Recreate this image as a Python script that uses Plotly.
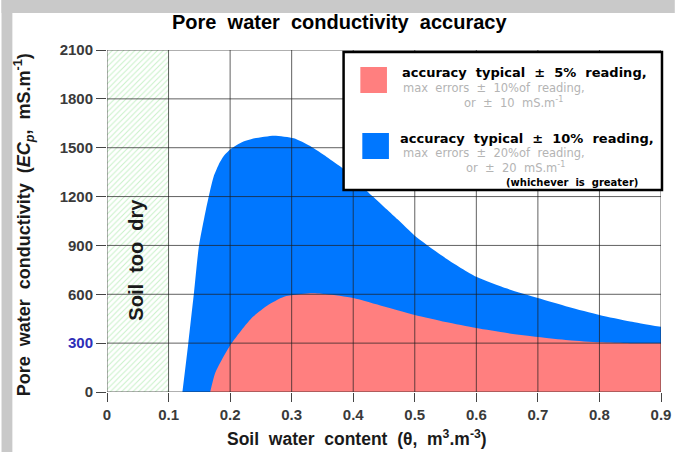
import plotly.graph_objects as go

# ---- data ----
blue_theta = [0.1225, 0.1321, 0.1412, 0.1492, 0.1580, 0.1652, 0.1732, 0.1812, 0.1900, 0.2023,
              0.2200, 0.2396, 0.2716, 0.3036, 0.3300, 0.3570, 0.3840, 0.4320, 0.4720, 0.5000,
              0.5500, 0.6000, 0.6500, 0.7000, 0.7500, 0.8000, 0.8500, 0.9000]
blue_ec = [0, 299, 606, 892, 1070, 1199, 1322, 1394, 1450, 1496,
           1535, 1558, 1574, 1558, 1510, 1443, 1370, 1200, 1060, 960,
           822, 708, 635, 577, 522, 473, 433, 400]

pink_theta = [0.1676, 0.1756, 0.1863, 0.2023, 0.2343, 0.2600, 0.2877, 0.3305, 0.3570, 0.4000,
              0.4500, 0.5000, 0.5500, 0.6000, 0.6500, 0.7000, 0.7500, 0.8000, 0.8500, 0.9000]
pink_ec = [0, 115, 196, 299, 452, 530, 585, 606, 600, 577,
           525, 473, 430, 393, 362, 338, 318, 305, 300, 300]

dry_theta = [0.05]
dry_height = [2100]

x_ticks = [0, 0.1, 0.2, 0.3, 0.4, 0.5, 0.6, 0.7, 0.8, 0.9]
x_labels = ["0", "0.1", "0.2", "0.3", "0.4", "0.5", "0.6", "0.7", "0.8", "0.9"]
y_ticks = [0, 300, 600, 900, 1200, 1500, 1800, 2100]
y_labels = ["0", "<span style='color:#2e2eb8'>300</span>", "600", "900", "1200", "1500", "1800", "2100"]

BLUE = "#0077ff"
PINK = "#ff7f7f"
FONT = "Liberation Sans, Arial, sans-serif"
WIDE = "DejaVu Sans, Verdana, sans-serif"

# plot-area pixel geometry (for layout placement only)
W, H = 683, 452
L, R, T, Bm = 107, 14, 50, 60
PW, PH = W - L - R, H - T - Bm
B = H - Bm
def fx(p):
    return (p - L) / PW
def fy(p):
    return (B - p) / PH

fig = go.Figure()

fig.add_trace(go.Bar(
    x=dry_theta, y=dry_height, width=0.1,
    marker=dict(color="white", line=dict(width=0),
                pattern=dict(shape="/", fgcolor="#8fe38f", bgcolor="white", size=4, solidity=0.25)),
    hoverinfo="skip", showlegend=False))

fig.add_trace(go.Scatter(
    x=blue_theta, y=blue_ec, mode="lines", fill="tozeroy",
    line=dict(color=BLUE, width=0, shape="spline", smoothing=0.6),
    fillcolor=BLUE, showlegend=False, hoverinfo="skip"))

fig.add_trace(go.Scatter(
    x=pink_theta, y=pink_ec, mode="lines", fill="tozeroy",
    line=dict(color=PINK, width=0, shape="spline", smoothing=0.6),
    fillcolor=PINK, showlegend=False, hoverinfo="skip"))

shapes = []
# grid drawn above fills
for t in x_ticks:
    shapes.append(dict(type="line", xref="x", yref="y", x0=t, x1=t, y0=y_ticks[0], y1=y_ticks[-1],
                       line=dict(color="rgba(30,30,30,0.7)", width=1), layer="above"))
for t in y_ticks:
    shapes.append(dict(type="line", xref="x", yref="y", x0=x_ticks[0], x1=x_ticks[-1], y0=t, y1=t,
                       line=dict(color="rgba(30,30,30,0.7)", width=1), layer="above"))
# gray frame strips
shapes.append(dict(type="rect", xref="paper", yref="paper", x0=fx(0), x1=fx(11), y0=fy(H), y1=fy(0),
                   fillcolor="#c9c9c9", line=dict(width=0)))
shapes.append(dict(type="rect", xref="paper", yref="paper", x0=fx(0), x1=fx(W), y0=fy(13), y1=fy(0),
                   fillcolor="#c9c9c9", line=dict(width=0)))
# legend box
shapes.append(dict(type="rect", xref="paper", yref="paper", x0=fx(347), x1=fx(670), y0=fy(190), y1=fy(52),
                   fillcolor="white", line=dict(color="black", width=2.5), layer="above"))
shapes.append(dict(type="rect", xref="paper", yref="paper", x0=fx(364), x1=fx(391), y0=fy(93), y1=fy(67),
                   fillcolor=PINK, line=dict(width=0), layer="above"))
shapes.append(dict(type="rect", xref="paper", yref="paper", x0=fx(366), x1=fx(393), y0=fy(159), y1=fy(133),
                   fillcolor=BLUE, line=dict(width=0), layer="above"))

ann = []
def txt(x, y, s, size, color, bold=False, anchor="left", angle=0, ref="paper", family=FONT):
    ann.append(dict(x=x, y=y, xref=ref, yref=ref, text=(f"<b>{s}</b>" if bold else s),
                    showarrow=False, xanchor=anchor, yanchor="middle", textangle=angle,
                    font=dict(family=family, size=size, color=color)))

txt(fx(404), fy(72), "accuracy  typical  ±  5%  reading,", 13, "black", True, family=WIDE)
txt(fx(405), fy(88), "max  errors  ±  10%of  reading,", 11.5, "#b4b4b4", family=WIDE)
txt(fx(467), fy(102), "or  ±  10  mS.m<sup>-1</sup>", 11.5, "#b4b4b4", family=WIDE)
txt(fx(402), fy(138), "accuracy  typical  ±  10%  reading,", 13, "black", True, family=WIDE)
txt(fx(405), fy(153), "max  errors  ±  20%of  reading,", 11.5, "#b4b4b4", family=WIDE)
txt(fx(469), fy(167), "or  ±  20  mS.m<sup>-1</sup>", 11.5, "#b4b4b4", family=WIDE)
txt(fx(510), fy(182), "(whichever  is  greater)", 10, "black", True, family=WIDE)

# in-plot label
txt(0.048, 810, "Soil  too  dry", 20, "#1a1a1a", True, anchor="center", angle=-90)
ann[-1]["xref"] = "x"; ann[-1]["yref"] = "y"

# titles
txt(fx(343), fy(22), "Pore  water  conductivity  accuracy", 20, "black", True, anchor="center")
txt(fx(361), fy(438), "Soil  water  content  (θ,  m<sup>3</sup>.m<sup>-3</sup>)", 17.5, "#1a1a1a", True, anchor="center")
txt(fx(22), fy(225), "Pore  water  conductivity  (<i>EC<sub>p</sub></i>,  mS.m<sup>-1</sup>)", 18, "#1a1a1a", True,
    anchor="center", angle=-90)

fig.update_layout(
    width=W, height=H,
    margin=dict(l=L, r=R, t=T, b=Bm, pad=0),
    paper_bgcolor="white", plot_bgcolor="white",
    shapes=shapes, annotations=ann,
    bargap=0,
    xaxis=dict(range=[x_ticks[0], x_ticks[-1]], tickvals=x_ticks, ticktext=x_labels,
               showgrid=False, zeroline=False, showline=False,
               ticks="outside", ticklen=9, tickcolor="#444", tickwidth=1,
               tickfont=dict(family=FONT, size=15, color="#3a3a3a", weight="bold")),
    yaxis=dict(range=[y_ticks[0], y_ticks[-1]], tickvals=y_ticks, ticktext=y_labels,
               showgrid=False, zeroline=False, showline=False,
               ticks="outside", ticklen=10, tickcolor="#444", tickwidth=1,
               tickfont=dict(family=FONT, size=15, color="#3a3a3a", weight="bold")),
)

fig.write_html("out.html", config={"displayModeBar": False},
               post_script="document.body.style.margin='0';document.body.style.overflow='hidden';")
